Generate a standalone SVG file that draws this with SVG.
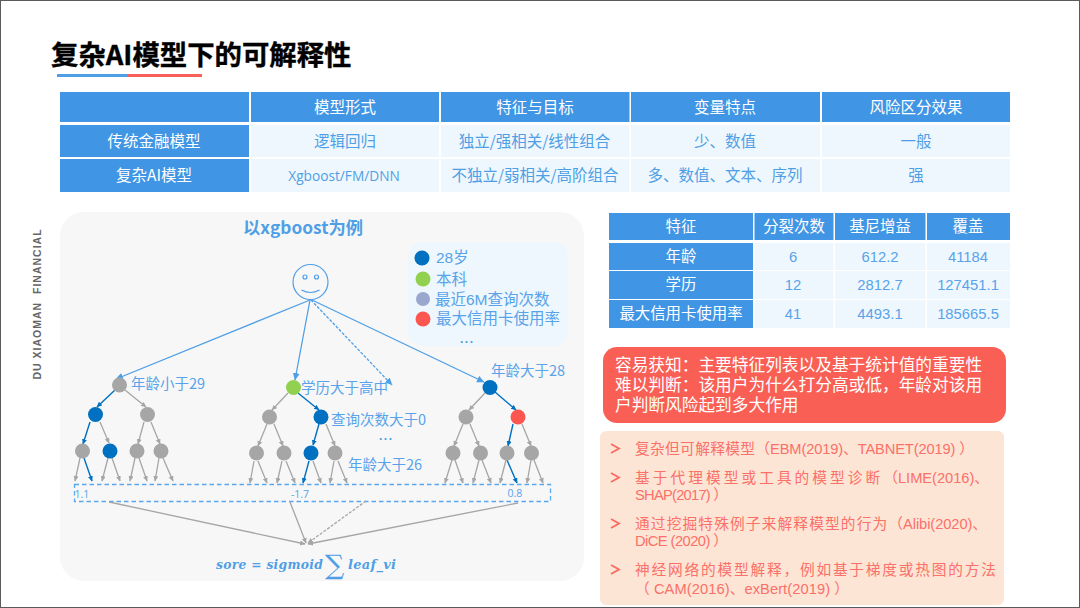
<svg xmlns="http://www.w3.org/2000/svg" width="1080" height="608" viewBox="0 0 1080 608">
<style>
text{font-family:"Noto Sans CJK SC","Liberation Sans",sans-serif}
.h{fill:#4095e5}.c{fill:#eef7fd}
.w{fill:#fff;font-size:15.5px;text-anchor:middle}
.b{fill:#4f9fe6;font-size:15.5px;text-anchor:middle}
.l{fill:#58a3ea;font-size:14.5px}
.lg{fill:#58a3ea;font-size:15.500px;font-family:"Liberation Sans","Noto Sans CJK SC",sans-serif}
.dots{fill:#4f9fe6;font-size:12px;font-weight:700;letter-spacing:1.5px;font-family:"Liberation Sans",sans-serif}
.n{fill:#58a3ea;font-size:14.800px;font-family:"Liberation Sans",sans-serif;text-anchor:middle}
.s{fill:#fff;font-size:15.400px;text-anchor:middle}
.r{fill:#fb7068;font-size:14.700px;font-family:"Liberation Sans","Noto Sans CJK SC",sans-serif}
.rw{fill:#fff;font-size:16.700px;font-family:"Liberation Sans","Noto Sans CJK SC",sans-serif}
.a{fill:#a6a6a6}.d{fill:#0070c0}
.ga{stroke:#a6a6a6;stroke-width:1.3;fill:none;marker-end:url(#mg)}
.da{stroke:#0070c0;stroke-width:1.4;fill:none;marker-end:url(#md)}
.la{stroke:#4f9fe6;stroke-width:1.3;fill:none;marker-end:url(#ml)}
.leaf{fill:#58a3ea;font-size:10.5px;font-family:"Open Sans",sans-serif;text-anchor:middle}
.m{font-family:"DejaVu Serif",serif;font-style:italic;font-weight:bold;fill:#4f9fe6}
</style>
<defs>
<marker id="mg" markerWidth="7" markerHeight="7" refX="5" refY="2.5" orient="auto" markerUnits="userSpaceOnUse"><path d="M0 0L5.500 2.500L0 5z" fill="#a6a6a6"/></marker>
<marker id="md" markerWidth="7" markerHeight="7" refX="5" refY="2.5" orient="auto" markerUnits="userSpaceOnUse"><path d="M0 0L5.500 2.500L0 5z" fill="#0070c0"/></marker>
<marker id="ml" markerWidth="8" markerHeight="8" refX="7" refY="3.5" orient="auto" markerUnits="userSpaceOnUse"><path d="M0 0L7.5 3.5L0 7z" fill="#4f9fe6"/></marker>
</defs>
<rect width="1080" height="608" fill="#fff"/>
<rect x="0.5" y="0.5" width="1079" height="607" fill="none" stroke="#5a5a5a"/>
<g id="title">
<text x="51" y="65" font-size="27.400" font-weight="700" fill="#000" stroke="#000" stroke-width="0.4">复杂AI模型下的可解释性</text>
<rect x="57" y="74" width="71" height="3" fill="#4f9fe6"/><rect x="127" y="74" width="75" height="3" fill="#fb5f5a"/>
</g>
<g id="table-top">
<rect class="h" x="60" y="92" width="189" height="30"/><rect class="h" x="251" y="92" width="188" height="30"/><rect class="h" x="441" y="92" width="188.500" height="30"/><rect class="h" x="631" y="92" width="189" height="30"/><rect class="h" x="822" y="92" width="188" height="30"/>
<rect class="h" x="60" y="125" width="189" height="32"/><rect class="c" x="251" y="125" width="188" height="32"/><rect class="c" x="441" y="125" width="188.500" height="32"/><rect class="c" x="631" y="125" width="189" height="32"/><rect class="c" x="822" y="125" width="188" height="32"/>
<rect class="h" x="60" y="159" width="189" height="33"/><rect class="c" x="251" y="159" width="188" height="33"/><rect class="c" x="441" y="159" width="188.500" height="33"/><rect class="c" x="631" y="159" width="189" height="33"/><rect class="c" x="822" y="159" width="188" height="33"/>
<text class="w" x="345" y="113">模型形式</text><text class="w" x="535" y="113">特征与目标</text><text class="w" x="725" y="113">变量特点</text><text class="w" x="916" y="113">风险区分效果</text>
<text class="w" x="154" y="147">传统金融模型</text><text class="b" x="345" y="147">逻辑回归</text><text class="b" x="534.500" y="147">独立/强相关/线性组合</text><text class="b" x="725" y="147">少、数值</text><text class="b" x="916" y="147">一般</text>
<text class="w" x="154" y="181">复杂AI模型</text><text class="b" x="344" y="181" style="font-size:13.700px;font-family:'Open Sans',sans-serif">Xgboost/FM/DNN</text><text class="b" x="535" y="181">不独立/弱相关/高阶组合</text><text class="b" x="725" y="181">多、数值、文本、序列</text><text class="b" x="916" y="181">强</text>
</g>
<text x="41" y="304" transform="rotate(-90 41 304)" text-anchor="middle" font-size="10.500" font-weight="700" fill="#666" letter-spacing="1" style="font-family:'Liberation Sans',sans-serif;white-space:pre">DU XIAOMAN  FINANCIAL</text>
<g id="panel">
<rect x="60" y="212" width="524" height="369" rx="24" fill="#f7f7f8"/>
<text x="303" y="234" font-size="17.300" font-weight="700" fill="#4f9fe6" text-anchor="middle">以xgboost为例</text>
<rect x="408" y="242" width="160" height="104" rx="15" fill="#eef7fd"/>
</g>
<g id="legend">
<circle cx="422" cy="258" r="7.500" fill="#0070c0"/><circle cx="423" cy="279" r="7.500" fill="#92d050"/><circle cx="423" cy="299" r="7" fill="#9aa7cf"/><circle cx="423" cy="319" r="7.500" fill="#fb5750"/>
<text class="lg" x="436" y="263">28岁</text><text class="lg" x="436" y="285">本科</text><text class="lg" x="435" y="305">最近6M查询次数</text><text class="lg" x="436" y="324">最大信用卡使用率</text>
<text class="dots" x="460" y="343">...</text>
</g>
<g id="connectors">
<path class="la" d="M310 300L116 379"/><path class="la" d="M310 300L295 380"/><path class="la" d="M311 300L392 385" stroke-dasharray="3 1.500"/><path class="la" d="M312 300L484 382"/>
<path class="da" d="M115 390L97 407"/><path class="ga" d="M125 390L146 407"/>
<path class="da" d="M90 422L83 444"/><path class="ga" d="M100 422L109 443"/>
<path class="ga" d="M144 422L138 444"/><path class="ga" d="M151 422L160 444"/>
<path class="ga" d="M80 458L75 481"/><path class="da" d="M84 458L92 481"/>
<path class="ga" d="M108 458L102 481"/><path class="ga" d="M112 458L120 481"/>
<path class="ga" d="M135 458L130 481"/><path class="ga" d="M139 458L147 481"/>
<path class="ga" d="M159 458L155 481"/><path class="ga" d="M163 458L173 481"/>
<path class="ga" d="M288 393L272 410"/><path class="da" d="M298 393L319 410"/>
<path class="ga" d="M267 424L258 446"/><path class="ga" d="M274 424L283 446"/>
<path class="da" d="M319 424L313 445"/><path class="ga" d="M326 424L335 446"/>
<path class="ga" d="M254 461L250 483"/><path class="ga" d="M258 461L267 483"/>
<path class="ga" d="M282 461L277 483"/><path class="ga" d="M286 461L295 483"/>
<path class="da" d="M309 461L303 483"/><path class="ga" d="M313 461L321 483"/>
<path class="ga" d="M334 461L330 483"/><path class="ga" d="M338 461L347 483"/>
<path class="ga" d="M485 393L469 410"/><path class="da" d="M495 392L516 410"/>
<path class="ga" d="M463 424L454 446"/><path class="ga" d="M470 424L479 446"/>
<path class="da" d="M513 424L508 446"/><path class="ga" d="M522 424L531 446"/>
<path class="ga" d="M452 460L445 483"/><path class="ga" d="M455 460L463 483"/>
<path class="ga" d="M479 460L473 483"/><path class="ga" d="M482 460L491 483"/>
<path class="ga" d="M506 460L500 483"/><path class="da" d="M507 460L517 483"/>
<path class="ga" d="M531 460L527 483"/><path class="ga" d="M534 460L543 483"/>
<rect x="74.500" y="484.500" width="476" height="17" fill="none" stroke="#5aa7ee" stroke-width="1.300" stroke-dasharray="4.500 3"/>
<path class="ga" d="M109 502L305 544"/><path class="ga" d="M290 502L306 543"/><path class="ga" d="M366 501L308 543" stroke-dasharray="3 1.500"/><path class="ga" d="M518 503L308 544"/>
</g>
<g id="face" fill="none" stroke="#4f9fe6" stroke-width="1.200">
<circle cx="310.500" cy="282" r="17.500"/><circle cx="305" cy="277" r="2"/><circle cx="316.500" cy="277" r="2"/><path d="M301.500 290Q310.500 295 319.500 290"/>
</g>
<g id="tree-1">
<circle class="a" cx="119.500" cy="385" r="7.500"/><circle class="d" cx="95.500" cy="414.500" r="7.500"/><circle class="a" cx="147.500" cy="414.500" r="7.500"/><circle class="a" cx="82.500" cy="451" r="7.500"/><circle class="d" cx="110" cy="451" r="7.500"/><circle class="a" cx="137" cy="451" r="7.500"/><circle class="a" cx="161" cy="451" r="7.500"/>
<text class="l" x="131" y="389">年龄小于29</text>
</g>
<g id="tree-2">
<circle cx="293.500" cy="387.500" r="7.500" fill="#92d050"/><circle class="a" cx="269.500" cy="417" r="7.500"/><circle class="d" cx="321" cy="417" r="7.500"/><circle class="a" cx="256.500" cy="453" r="7.500"/><circle class="a" cx="284" cy="453" r="7.500"/><circle class="d" cx="311" cy="453" r="7.500"/><circle class="a" cx="335" cy="453" r="7.500"/>
<text class="l" x="301" y="393">学历大于高中</text><text class="l" x="331" y="425">查询次数大于0</text><text class="dots" x="379" y="440">...</text><text class="l" x="348" y="470">年龄大于26</text>
</g>
<g id="tree-3">
<circle class="d" cx="490" cy="387.500" r="7.500"/><circle class="a" cx="466" cy="417" r="7.500"/><circle cx="518" cy="417" r="7.500" fill="#fb5750"/><circle class="a" cx="453" cy="453" r="7.500"/><circle class="a" cx="480.500" cy="453" r="7.500"/><circle class="a" cx="507" cy="453" r="7.500"/><circle class="a" cx="531.500" cy="453" r="7.500"/>
<text class="l" x="491" y="376">年龄大于28</text>
</g>
<g id="leaf-values">
<text class="leaf" x="82" y="498">1.1</text><text class="leaf" x="300" y="498">-1.7</text><text class="leaf" x="515" y="497">0.8</text>
</g>
<g id="formula">
<text class="m" x="216" y="569" font-size="12.300" style="letter-spacing:.3px">sore = sigmoid</text>
<text class="m" x="325" y="574" font-size="27" style="font-style:normal;font-weight:400">∑</text>
<text class="m" x="348" y="569" font-size="13" style="letter-spacing:.3px">leaf_vi</text>
</g>
<g id="table-right">
<rect class="h" x="609" y="213" width="144" height="27"/><rect class="h" x="754.500" y="213" width="79" height="27"/><rect class="h" x="835" y="213" width="90.500" height="27"/><rect class="h" x="927" y="213" width="83" height="27"/>
<rect class="h" x="609" y="243" width="144" height="27"/><rect class="c" x="754.500" y="243" width="79" height="27"/><rect class="c" x="835" y="243" width="90.500" height="27"/><rect class="c" x="927" y="243" width="83" height="27"/>
<rect class="h" x="609" y="271" width="144" height="28"/><rect class="c" x="754.500" y="271" width="79" height="28"/><rect class="c" x="835" y="271" width="90.500" height="28"/><rect class="c" x="927" y="271" width="83" height="28"/>
<rect class="h" x="609" y="300" width="144" height="28"/><rect class="c" x="754.500" y="300" width="79" height="28"/><rect class="c" x="835" y="300" width="90.500" height="28"/><rect class="c" x="927" y="300" width="83" height="28"/>
<text class="s" x="681" y="232">特征</text><text class="s" x="794" y="232">分裂次数</text><text class="s" x="880" y="232">基尼增益</text><text class="s" x="968" y="232">覆盖</text>
<text class="s" x="681" y="262">年龄</text><text class="n" x="793" y="262">6</text><text class="n" x="880" y="262">612.2</text><text class="n" x="968" y="262">41184</text>
<text class="s" x="681" y="290">学历</text><text class="n" x="793" y="290">12</text><text class="n" x="880" y="290">2812.7</text><text class="n" x="968" y="290">127451.1</text>
<text class="s" x="681" y="319">最大信用卡使用率</text><text class="n" x="793" y="319">41</text><text class="n" x="880" y="319">4493.1</text><text class="n" x="968" y="319">185665.5</text>
</g>
<g id="callout-red">
<rect x="603" y="347" width="403" height="76" rx="14" fill="#fa5f55"/>
<text class="rw" x="615" y="371">容易获知：主要特征列表以及基于统计值的重要性</text>
<text class="rw" x="615" y="391">难以判断：该用户为什么打分高或低，年龄对该用</text>
<text class="rw" x="615" y="411">户判断风险起到多大作用</text>
</g>
<g id="callout-list">
<rect x="600" y="431" width="404" height="174" rx="6" fill="#fde5d6"/>
<g fill="none" stroke="#fb6a60" stroke-width="1.800"><path d="M611 444L619 448.500L611 453"/><path d="M611 473L619 477.500L611 482"/><path d="M611 519L619 523.500L611 528"/><path d="M611 565L619 569.500L611 574"/></g>
<text class="r" y="454"><tspan x="635" textLength="135">复杂但可解释模型（</tspan><tspan x="770" textLength="204">EBM(2019)、TABNET(2019) ）</tspan></text>
<text class="r" y="483"><tspan x="635" textLength="263">基于代理模型或工具的模型诊断（</tspan><tspan x="898" textLength="91">LIME(2016)、</tspan></text>
<text class="r" x="635" y="500" textLength="93">SHAP(2017) ）</text>
<text class="r" y="529"><tspan x="635" textLength="268">通过挖掘特殊例子来解释模型的行为（</tspan><tspan x="903" textLength="84">Alibi(2020)、</tspan></text>
<text class="r" x="635" y="546" textLength="93">DiCE (2020) ）</text>
<text class="r" x="635" y="575" textLength="361">神经网络的模型解释，例如基于梯度或热图的方法</text>
<text class="r" x="635" y="594" textLength="214">（ CAM(2016)、exBert(2019) ）</text>
</g>
</svg>
